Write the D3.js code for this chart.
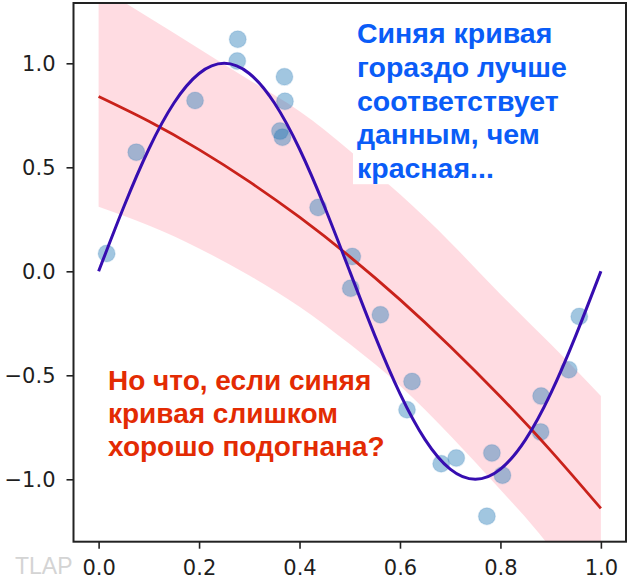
<!DOCTYPE html>
<html>
<head>
<meta charset="utf-8">
<script src="https://cdn.jsdelivr.net/npm/d3@7"></script>
<style>
  body { margin: 0; background: #fff; }
  svg { display: block; }
</style>
</head>
<body>
<svg width="630" height="586"></svg>
<script>
// noisy samples
const pointX = [0.016, 0.075, 0.192, 0.277, 0.276, 0.370, 0.371, 0.361, 0.366, 0.437,
                0.505, 0.502, 0.561, 0.624, 0.614, 0.682, 0.712, 0.783, 0.804, 0.773,
                0.880, 0.881, 0.936, 0.957];
const pointY = [0.086, 0.573, 0.821, 1.116, 1.011, 0.935, 0.818, 0.674, 0.645, 0.307,
                0.071, -0.081, -0.209, -0.530, -0.666, -0.925, -0.898, -0.873, -0.980, -1.178,
                -0.772, -0.600, -0.473, -0.217];

// blue (overfit) curve
const blueX = [0, 0.05, 0.1, 0.15, 0.2, 0.25, 0.3, 0.35, 0.4, 0.45, 0.5,
               0.55, 0.6, 0.65, 0.7, 0.75, 0.8, 0.85, 0.9, 0.95, 1.0];
const blueY = [0, 0.309, 0.588, 0.809, 0.951, 1.0, 0.951, 0.809, 0.588, 0.309, 0,
               -0.309, -0.588, -0.809, -0.951, -1.0, -0.951, -0.809, -0.588, -0.309, 0];

// red (simple) curve and its band
const redX = [0, 0.1, 0.2, 0.3, 0.4, 0.5, 0.6, 0.7, 0.8, 0.9, 1.0];
const redY = [0.84, 0.721, 0.585, 0.431, 0.260, 0.071, -0.136, -0.361, -0.603, -0.862, -1.14];
const bandHigh = [1.37, 1.22, 1.07, 0.92, 0.77, 0.58, 0.37, 0.14, -0.11, -0.35, -0.60];
const bandLow = [0.31, 0.22, 0.11, -0.02, -0.17, -0.35, -0.55, -0.79, -1.05, -1.33, -1.68];

const xTicks = [0, 0.2, 0.4, 0.6, 0.8, 1.0];
const yTicks = [-1.0, -0.5, 0, 0.5, 1.0];

const blueNote = ["Синяя кривая", "гораздо лучше", "соответствует", "данным, чем", "красная..."];
const redNote = ["Но что, если синяя", "кривая слишком", "хорошо подогнана?"];

const svg = d3.select("svg");
const plotLeft = 73.5, plotRight = 626, plotTop = 3, plotBottom = 541.7;

const x = d3.scaleLinear().domain([-0.05, 1.05]).range([plotLeft, plotRight]);
const y = d3.scaleLinear().domain([-1.3, 1.29]).range([plotBottom, plotTop]);

svg.append("defs").append("clipPath").attr("id", "plot")
    .append("rect")
    .attr("x", plotLeft).attr("y", plotTop)
    .attr("width", plotRight - plotLeft).attr("height", plotBottom - plotTop);

const plot = svg.append("g").attr("clip-path", "url(#plot)");

// band
plot.append("path")
    .datum(redX.map((d, i) => i))
    .attr("fill", "pink")
    .attr("fill-opacity", 0.55)
    .attr("d", d3.area()
        .x(i => x(redX[i]))
        .y0(i => y(bandLow[i]))
        .y1(i => y(bandHigh[i]))
        .curve(d3.curveNatural));

// white backgrounds of the notes sit over the band but under the marks
const boxLayer = svg.append("g");

// points
const marks = svg.append("g").attr("clip-path", "url(#plot)");
marks.append("g").selectAll("circle")
    .data(pointX.map((d, i) => i))
    .join("circle")
    .attr("cx", i => x(pointX[i]))
    .attr("cy", i => y(pointY[i]))
    .attr("r", 8.5)
    .attr("fill", "#1f77b4")
    .attr("fill-opacity", 0.42)
    .attr("stroke", "#1f77b4")
    .attr("stroke-opacity", 0.12)
    .attr("stroke-width", 1.5);

// red line
marks.append("path")
    .datum(redX.map((d, i) => i))
    .attr("fill", "none")
    .attr("stroke", "#c9221b")
    .attr("stroke-width", 2.8)
    .attr("d", d3.line()
        .x(i => x(redX[i]))
        .y(i => y(redY[i]))
        .curve(d3.curveNatural));

// blue line
marks.append("path")
    .datum(blueX.map((d, i) => i))
    .attr("fill", "none")
    .attr("stroke", "#360db0")
    .attr("stroke-width", 3)
    .attr("d", d3.line()
        .x(i => x(blueX[i]))
        .y(i => y(blueY[i]))
        .curve(d3.curveNatural));

// axes
const xAxis = svg.append("g")
    .attr("transform", `translate(0,${plotBottom})`)
    .call(d3.axisBottom(x).tickValues(xTicks).tickFormat(d3.format(".1f"))
        .tickSize(7).tickPadding(11));
const yAxis = svg.append("g")
    .attr("transform", `translate(${plotLeft},0)`)
    .call(d3.axisLeft(y).tickValues(yTicks).tickFormat(d3.format(".1f"))
        .tickSize(7).tickPadding(11));

[xAxis, yAxis].forEach(g => {
    g.select(".domain").remove();
    g.selectAll("line").attr("stroke", "#222").attr("stroke-width", 1.6);
    g.selectAll("text")
        .attr("fill", "#1e1e1e")
        .style("font-family", "'DejaVu Sans', sans-serif")
        .style("font-size", "21px");
});

// frame
svg.append("rect")
    .attr("x", plotLeft).attr("y", plotTop)
    .attr("width", plotRight - plotLeft).attr("height", plotBottom - plotTop)
    .attr("fill", "none")
    .attr("stroke", "#222")
    .attr("stroke-width", 2);

// annotations, one white box per line
function note(lines, x0, y0, step, size, color) {
    lines.forEach((s, i) => {
        const t = svg.append("text")
            .attr("x", x0).attr("y", y0 + i * step)
            .attr("fill", color)
            .style("font-family", "'Liberation Sans', Arial, Helvetica, sans-serif")
            .style("font-weight", "bold")
            .style("font-size", size + "px")
            .text(s);
        const bb = t.node().getBBox();
        boxLayer.append("rect")
            .attr("x", bb.x - 4).attr("y", bb.y)
            .attr("width", bb.width + 8).attr("height", bb.height)
            .attr("fill", "#fff");
    });
}

note(blueNote, 357, 43, 33.8, 28.5, "#0a5cf7");
note(redNote, 108, 390, 33.2, 28, "#e32b03");

// watermark
svg.append("text")
    .attr("x", 15).attr("y", 574)
    .attr("fill", "#d4d4d4")
    .style("font-family", "'Liberation Sans', Arial, sans-serif")
    .style("font-size", "23px")
    .text("TLAP");
</script>
</body>
</html>
